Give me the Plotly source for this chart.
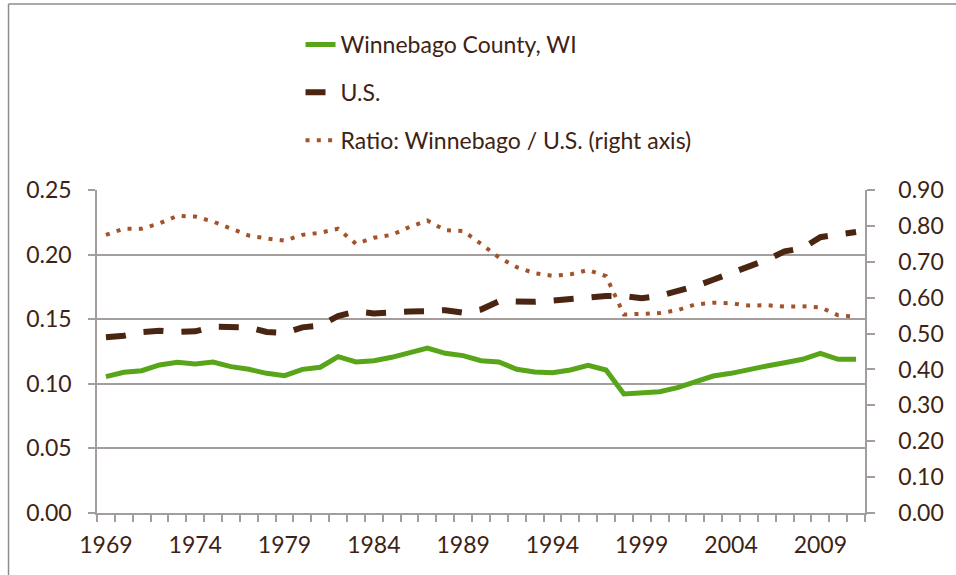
import plotly.graph_objects as go

years = list(range(1969, 2012))
winnebago = [0.1055, 0.1089, 0.1101, 0.1146, 0.1166, 0.1153, 0.1169, 0.1133, 0.1112, 0.1081,
             0.1063, 0.1112, 0.1128, 0.1210, 0.1169, 0.1179, 0.1205, 0.1246, 0.1277, 0.1236,
             0.1218, 0.1179, 0.1169, 0.1112, 0.1091, 0.1086, 0.1107, 0.1143, 0.1107, 0.0921,
             0.0929, 0.0939, 0.0970, 0.1019, 0.1060, 0.1081, 0.1112, 0.1138, 0.1163, 0.1190,
             0.1236, 0.1190, 0.1190]
us = [0.1360, 0.1372, 0.1400, 0.1411, 0.1401, 0.1406, 0.1442, 0.1442, 0.1437, 0.1401,
      0.1393, 0.1437, 0.1450, 0.1525, 0.1560, 0.1545, 0.1556, 0.1560, 0.1563, 0.1570,
      0.1550, 0.1575, 0.1638, 0.1633, 0.1635, 0.1643, 0.1656, 0.1677, 0.1680, 0.1680,
      0.1662, 0.1680, 0.1712, 0.1755, 0.1805, 0.1855, 0.1905, 0.1960, 0.2025, 0.2050,
      0.2135, 0.2160, 0.2175]
ratio = [0.775, 0.792, 0.792, 0.807, 0.828, 0.826, 0.812, 0.792, 0.773, 0.765,
         0.759, 0.775, 0.781, 0.792, 0.750, 0.767, 0.775, 0.797, 0.815, 0.788,
         0.786, 0.750, 0.712, 0.685, 0.668, 0.661, 0.665, 0.677, 0.660, 0.553,
         0.556, 0.557, 0.565, 0.581, 0.586, 0.584, 0.578, 0.579, 0.575, 0.576,
         0.573, 0.551, 0.547]
x_tick_years = [1969, 1974, 1979, 1984, 1989, 1994, 1999, 2004, 2009]

TXT = "#3E2314"
GRID = "#A39D9B"
FONT = "Lato"

fig = go.Figure()
fig.add_trace(go.Scatter(x=years, y=winnebago, mode="lines", name="Winnebago County, WI",
                         legendgroup="a", line=dict(color="#58A51A", width=5)))
fig.add_trace(go.Scatter(x=years, y=us, mode="lines", name="U.S.", legendgroup="b",
                         line=dict(color="#4A2612", width=6, dash="20px,18px")))
fig.add_trace(go.Scatter(x=years, y=ratio, mode="lines", name="Ratio: Winnebago / U.S. (right axis)",
                         legendgroup="c", yaxis="y2",
                         line=dict(color="#A3532B", width=4, dash="4px,7.3px")))

fig.update_layout(
    width=956, height=575,
    margin=dict(l=97, r=78, t=190, b=62),
    paper_bgcolor="white", plot_bgcolor="white",
    font=dict(family=FONT, size=23, color=TXT),
    showlegend=True,
    legend=dict(x=0.265, xanchor="left", y=1.517, yanchor="top",
                bgcolor="rgba(0,0,0,0)", tracegroupgap=15,
                font=dict(family=FONT, size=23, color=TXT)),
    xaxis=dict(range=[1968.5, 2011.5], tickmode="array", tickvals=x_tick_years,
               ticks="", showgrid=False, showline=True, linecolor=GRID, linewidth=1.5,
               zeroline=False, ticklabelstandoff=11,
               minor=dict(tickmode="linear", tick0=1968.5, dtick=1, ticks="outside",
                          ticklen=7, tickcolor=GRID, tickwidth=1.5, showgrid=False)),
    yaxis=dict(range=[0, 0.25], dtick=0.05, tickformat=".2f", showgrid=True, gridcolor=GRID,
               gridwidth=1.5, showline=True, linecolor=GRID, linewidth=1.5, ticks="outside",
               ticklen=7, tickcolor=GRID, tickwidth=1.5, zeroline=False, ticklabelstandoff=12),
    yaxis2=dict(range=[0, 0.9], dtick=0.1, tickformat=".2f", overlaying="y", side="right",
                showgrid=False, showline=True, linecolor=GRID, linewidth=1.5, ticks="outside",
                ticklen=8, tickcolor=GRID, tickwidth=1.5, zeroline=False, ticklabelstandoff=19),
    shapes=[
        dict(type="line", xref="paper", yref="paper", x0=-0.1152, x1=-0.1152, y0=-0.3, y1=1.576,
             line=dict(color="#8C8C8C", width=1.5)),
        dict(type="line", xref="paper", yref="paper", x0=-0.1152, x1=1.2, y0=1.576, y1=1.576,
             line=dict(color="#8C8C8C", width=1.5)),
    ],
)

fig.write_html("out.html", config={"displayModeBar": False},
               post_script="document.body.style.margin='0';document.body.style.overflow='hidden';")
